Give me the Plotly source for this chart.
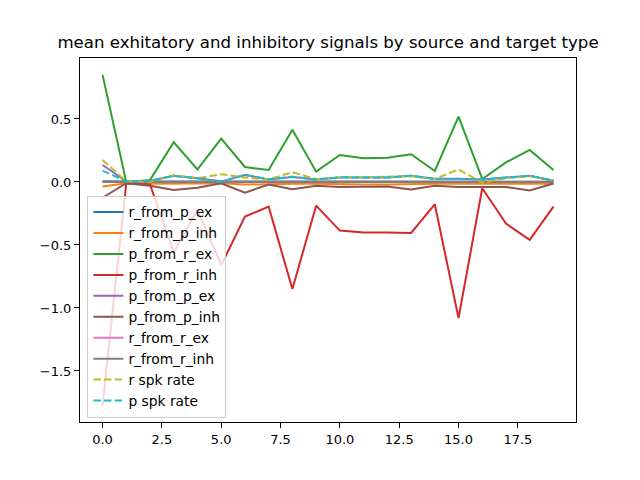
import plotly.graph_objects as go

# time bins
steps = list(range(20))

# mean signals per source -> target type
r_from_p_ex = [0.005, 0.002, 0.003, 0.004, 0.003, 0.002, 0.004, 0.003, 0.004, 0.003,
               0.003, 0.003, 0.003, 0.004, 0.003, 0.003, 0.003, 0.003, 0.004, 0.002]
r_from_p_inh = [-0.035, -0.01, -0.015, -0.015, -0.015, -0.01, -0.02, -0.015, -0.015, -0.015,
                -0.02, -0.02, -0.02, -0.015, -0.015, -0.015, -0.015, -0.015, -0.02, -0.015]
p_from_r_ex = [0.85, 0.0, 0.015, 0.315, 0.10, 0.344, 0.119, 0.095, 0.415, 0.082,
               0.214, 0.188, 0.193, 0.22, 0.087, 0.518, 0.024, 0.156, 0.254, 0.095]
p_from_r_inh = [-1.774, -0.01, -0.02, -0.56, -0.22, -0.66, -0.275, -0.196, -0.85, -0.188,
                -0.386, -0.40, -0.40, -0.405, -0.177, -1.08, -0.05, -0.33, -0.46, -0.196]
p_from_p_ex = [0.135, 0.005, 0.01, 0.05, 0.03, 0.005, 0.055, 0.02, 0.04, 0.02,
               0.035, 0.035, 0.035, 0.05, 0.025, 0.025, 0.02, 0.035, 0.05, 0.01]
p_from_p_inh = [-0.125, -0.01, -0.03, -0.064, -0.045, -0.01, -0.085, -0.02, -0.058, -0.03,
                -0.04, -0.038, -0.035, -0.06, -0.03, -0.04, -0.04, -0.04, -0.068, -0.012]
r_from_r_ex = [0.002, 0.001, 0.001, 0.002, 0.001, 0.001, 0.002, 0.001, 0.002, 0.001,
               0.001, 0.001, 0.001, 0.002, 0.001, 0.001, 0.001, 0.001, 0.002, 0.001]
r_from_r_inh = [0.0, 0.0, 0.0, 0.0, 0.0, 0.0, 0.0, 0.0, 0.0, 0.0,
                0.0, 0.0, 0.0, 0.0, 0.0, 0.0, 0.0, 0.0, 0.0, 0.0]
r_spk_rate = [0.175, 0.005, 0.0, 0.055, 0.03, 0.062, 0.035, 0.02, 0.078, 0.022,
              0.035, 0.04, 0.04, 0.045, 0.022, 0.10, -0.005, 0.03, 0.045, 0.01]
p_spk_rate = [0.09, 0.005, 0.008, 0.048, 0.03, 0.0, 0.058, 0.022, 0.042, 0.02,
              0.037, 0.035, 0.035, 0.05, 0.024, 0.024, 0.02, 0.035, 0.05, 0.01]

x_ticks = [0, 2.5, 5, 7.5, 10, 12.5, 15, 17.5]
x_labels = ["0.0", "2.5", "5.0", "7.5", "10.0", "12.5", "15.0", "17.5"]
y_ticks = [-1.5, -1.0, -0.5, 0.0, 0.5]
y_labels = ["\u22121.5", "\u22121.0", "\u22120.5", "0.0", "0.5"]

series = [
    ("r_from_p_ex", r_from_p_ex, "#1f77b4", "solid"),
    ("r_from_p_inh", r_from_p_inh, "#ff7f0e", "solid"),
    ("p_from_r_ex", p_from_r_ex, "#2ca02c", "solid"),
    ("p_from_r_inh", p_from_r_inh, "#d62728", "solid"),
    ("p_from_p_ex", p_from_p_ex, "#9467bd", "solid"),
    ("p_from_p_inh", p_from_p_inh, "#8c564b", "solid"),
    ("r_from_r_ex", r_from_r_ex, "#e377c2", "solid"),
    ("r_from_r_inh", r_from_r_inh, "#7f7f7f", "solid"),
    ("r spk rate", r_spk_rate, "#bcbd22", "7.4px,3.2px"),
    ("p spk rate", p_spk_rate, "#17becf", "7.4px,3.2px"),
]

fig = go.Figure()
for name, vals, color, dash in series:
    fig.add_trace(go.Scatter(x=steps, y=vals, mode="lines", name=name,
                             line=dict(color=color, width=2, dash=dash)))

axis_style = dict(showgrid=False, zeroline=False, showline=True, linecolor="black",
                  linewidth=1, mirror=True, ticks="outside", ticklen=5,
                  tickcolor="black", tickfont=dict(size=13, color="black"))

# page body has an 8px margin, so margins are shifted to keep the axes in place
fig.update_layout(
    width=640, height=480,
    margin=dict(l=72, r=72, t=50, b=66),
    paper_bgcolor="white", plot_bgcolor="white",
    font=dict(family="DejaVu Sans", color="black"),
    title=dict(text="mean exhitatory and inhibitory signals by source and target type",
               x=0.5, xref="paper", xanchor="center",
               y=1 - 34 / 480, yref="container", yanchor="middle",
               font=dict(size=16.6)),
    xaxis=dict(range=[-0.95, 19.95], tickvals=x_ticks, ticktext=x_labels, **axis_style),
    yaxis=dict(range=[-1.905, 0.984], tickvals=y_ticks, ticktext=y_labels, **axis_style),
    legend=dict(x=0.015, y=0.012, xanchor="left", yanchor="bottom",
                bgcolor="rgba(255,255,255,0.8)", bordercolor="#cccccc", borderwidth=1,
                font=dict(size=13.8), tracegroupgap=0, itemwidth=30),
    showlegend=True,
)

fig.write_html("out.html")
